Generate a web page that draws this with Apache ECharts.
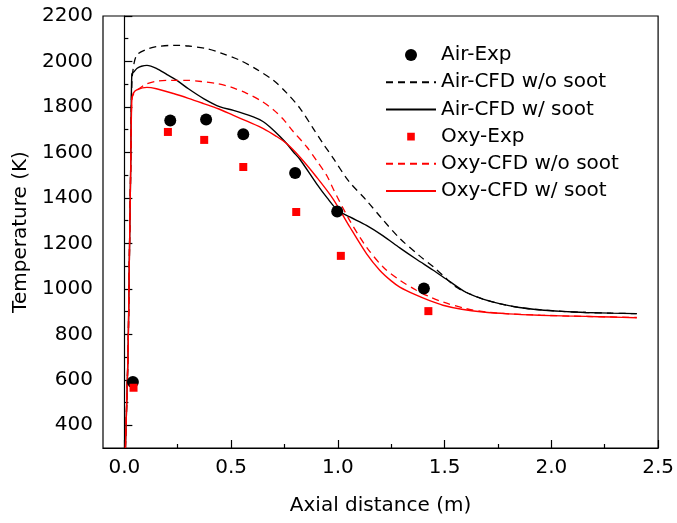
<!DOCTYPE html>
<html><head><meta charset="utf-8">
<script src="https://cdn.jsdelivr.net/npm/echarts@6/dist/echarts.min.js"></script>
<style>html,body{margin:0;padding:0;background:#fff}#c{width:677px;height:523px}</style>
</head><body><div id="c"></div>
<script>
// ---- data ----
var airExpX = [0.04, 0.215, 0.383, 0.557, 0.80, 0.997, 1.403];
var airExpT = [590, 1740, 1745, 1680, 1510, 1340, 1002];
var oxyExpX = [0.043, 0.204, 0.374, 0.557, 0.805, 1.014, 1.424];
var oxyExpT = [565, 1690, 1655, 1536, 1338, 1145, 902];

var riseX = [0.005, 0.012, 0.018, 0.023, 0.030];
var riseT = [300, 530, 750, 1100, 1550];

var airNoSootX = [0.035, 0.045, 0.06, 0.1, 0.15, 0.23, 0.3, 0.386, 0.45, 0.542, 0.62, 0.698, 0.76, 0.822, 0.885, 0.93, 0.978, 1.05, 1.134, 1.21, 1.29, 1.383, 1.45, 1.5, 1.55, 1.6, 1.68, 1.757, 1.85, 1.944, 2.05, 2.162, 2.28, 2.4];
var airNoSootT = [1900, 1990, 2030, 2052, 2065, 2071, 2068, 2056, 2038, 2005, 1965, 1917, 1862, 1795, 1705, 1640, 1575, 1475, 1389, 1305, 1222, 1145, 1095, 1052, 1010, 985, 955, 935, 918, 908, 901, 896, 893, 891];

var airSootX = [0.035, 0.045, 0.06, 0.08, 0.106, 0.15, 0.2, 0.246, 0.3, 0.371, 0.449, 0.511, 0.604, 0.651, 0.682, 0.729, 0.76, 0.791, 0.822, 0.9, 0.95, 1.0, 1.056, 1.134, 1.212, 1.29, 1.368, 1.445, 1.523, 1.6, 1.68, 1.757, 1.85, 1.944, 2.05, 2.162, 2.28, 2.4];
var airSootT = [1945, 1955, 1970, 1979, 1983, 1970, 1942, 1917, 1880, 1837, 1800, 1785, 1756, 1735, 1712, 1670, 1639, 1603, 1570, 1463, 1400, 1345, 1316, 1279, 1233, 1180, 1130, 1083, 1033, 985, 955, 935, 918, 908, 901, 896, 893, 891];

var oxyNoSootX = [0.035, 0.045, 0.059, 0.1, 0.153, 0.22, 0.293, 0.36, 0.433, 0.5, 0.573, 0.64, 0.698, 0.75, 0.791, 0.854, 0.9, 0.95, 0.978, 1.056, 1.134, 1.212, 1.29, 1.368, 1.43, 1.492, 1.6, 1.7, 1.8, 1.95, 2.1, 2.25, 2.4];
var oxyNoSootT = [1835, 1860, 1873, 1900, 1914, 1917, 1917, 1912, 1903, 1887, 1860, 1827, 1788, 1740, 1692, 1625, 1565, 1495, 1440, 1300, 1184, 1096, 1038, 994, 965, 942, 913, 898, 890, 884, 880, 877, 874];

var oxySootX = [0.035, 0.043, 0.06, 0.106, 0.15, 0.23, 0.3, 0.371, 0.44, 0.511, 0.58, 0.651, 0.71, 0.76, 0.822, 0.9, 0.978, 1.056, 1.134, 1.196, 1.25, 1.29, 1.368, 1.43, 1.492, 1.58, 1.679, 1.8, 1.944, 2.05, 2.162, 2.28, 2.4];
var oxySootT = [1830, 1862, 1876, 1886, 1880, 1859, 1838, 1815, 1792, 1763, 1735, 1705, 1672, 1639, 1580, 1492, 1395, 1272, 1155, 1082, 1035, 1008, 972, 948, 928, 910, 898, 890, 884, 881, 879, 876, 873];

// tick labels / tick positions
var xTickLabels = [0, 0.5, 1.0, 1.5, 2.0, 2.5];
var xMinorTicks = [0.25, 0.75, 1.25, 1.75, 2.25];
var yTickLabels = [400, 600, 800, 1000, 1200, 1400, 1600, 1800, 2000, 2200];
var yMinorTicks = [500, 700, 900, 1100, 1300, 1500, 1700, 1900, 2100];

var legendNames = ['Air-Exp', 'Air-CFD w/o soot', 'Air-CFD w/ soot', 'Oxy-Exp', 'Oxy-CFD w/o soot', 'Oxy-CFD w/ soot'];
var xAxisTitle = 'Axial distance (m)';
var yAxisTitle = 'Temperature (K)';

function pairs(xs, ys) { return xs.map(function (x, i) { return [x, ys[i]]; }); }
function curve(xs, ys) { return pairs(riseX, riseT).concat(pairs(xs, ys)); }

var FONT = 'DejaVu Sans';
var XMIN = -0.1, XMAX = 2.5, YMIN = 300, YMAX = 2200;
var chart = echarts.init(document.getElementById('c'), null, {renderer: 'canvas'});
var squareIcon = 'path://M0,0L0.05,0L0,0.05ZM2.2,2.2L9.8,2.2L9.8,9.8L2.2,9.8ZM12,12L11.95,12L12,11.95Z';
var noSym = {opacity: 0};

var tickLine = {color: '#000', width: 1.2};
chart.setOption({
  animation: false,
  backgroundColor: '#fff',
  grid: {left: 103, right: 17, top: 16, bottom: 75, show: true, borderColor: '#000', borderWidth: 1.2, backgroundColor: 'transparent'},
  legend: {
    left: 385, top: 45, orient: 'vertical', padding: 0,
    itemWidth: 50, itemHeight: 12, itemGap: 7.2,
    textStyle: {fontFamily: FONT, fontSize: 20, color: '#000', lineHeight: 20},
    data: [
      {name: legendNames[0], icon: 'circle'},
      {name: legendNames[1], itemStyle: noSym},
      {name: legendNames[2], itemStyle: noSym},
      {name: legendNames[3], icon: squareIcon},
      {name: legendNames[4], itemStyle: noSym},
      {name: legendNames[5], itemStyle: noSym}
    ]
  },
  xAxis: [{
    type: 'value', min: XMIN, max: XMAX,
    name: xAxisTitle, nameLocation: 'middle', nameGap: 48,
    nameTextStyle: {fontFamily: FONT, fontSize: 20, color: '#000'},
    axisLine: {lineStyle: tickLine},
    axisTick: {inside: true, length: 8, lineStyle: tickLine, customValues: xTickLabels},
    splitLine: {show: false},
    axisLabel: {fontFamily: FONT, fontSize: 20, color: '#000', margin: 10, customValues: xTickLabels,
      formatter: function (v) { return v.toFixed(1); }}
  }, {
    type: 'value', min: XMIN, max: XMAX, position: 'bottom',
    axisLine: {show: false},
    axisTick: {show: true, inside: true, length: 4, lineStyle: tickLine, customValues: xMinorTicks},
    axisLabel: {show: false}, splitLine: {show: false}
  }],
  yAxis: [{
    type: 'value', min: YMIN, max: YMAX,
    name: yAxisTitle, nameLocation: 'middle', nameGap: 68,
    nameTextStyle: {fontFamily: FONT, fontSize: 20, color: '#000'},
    axisLine: {show: true, lineStyle: tickLine},
    axisTick: {show: true, inside: true, length: 8, lineStyle: tickLine, customValues: yTickLabels},
    splitLine: {show: false},
    axisLabel: {fontFamily: FONT, fontSize: 20, color: '#000', margin: 10, customValues: yTickLabels,
      formatter: function (v) { return String(v); }}
  }, {
    type: 'value', min: YMIN, max: YMAX, position: 'left',
    axisLine: {show: false},
    axisTick: {show: true, inside: true, length: 4, lineStyle: tickLine, customValues: yMinorTicks},
    axisLabel: {show: false}, splitLine: {show: false}
  }],
  series: [
    {name: legendNames[1], type: 'line', data: curve(airNoSootX, airNoSootT), symbol: 'none', smooth: 0.3,
      lineStyle: {color: '#000', width: 1.3, type: [7, 5]}, itemStyle: {color: '#000'}, z: 3},
    {name: legendNames[2], type: 'line', data: curve(airSootX, airSootT), symbol: 'none', smooth: 0.3,
      lineStyle: {color: '#000', width: 1.4}, itemStyle: {color: '#000'}, z: 3},
    {name: legendNames[4], type: 'line', data: curve(oxyNoSootX, oxyNoSootT), symbol: 'none', smooth: 0.3,
      lineStyle: {color: '#ff0000', width: 1.3, type: [7, 5]}, itemStyle: {color: '#ff0000'}, z: 4},
    {name: legendNames[5], type: 'line', data: curve(oxySootX, oxySootT), symbol: 'none', smooth: 0.3,
      lineStyle: {color: '#ff0000', width: 1.4}, itemStyle: {color: '#ff0000'}, z: 4},
    {name: legendNames[0], type: 'scatter', data: pairs(airExpX, airExpT), symbol: 'circle', symbolSize: 12,
      itemStyle: {color: '#000', opacity: 1}, z: 5},
    {name: legendNames[3], type: 'scatter', data: pairs(oxyExpX, oxyExpT), symbol: 'rect', symbolSize: 8,
      itemStyle: {color: '#ff0000', opacity: 1}, z: 6}
  ]
});
</script></body></html>
